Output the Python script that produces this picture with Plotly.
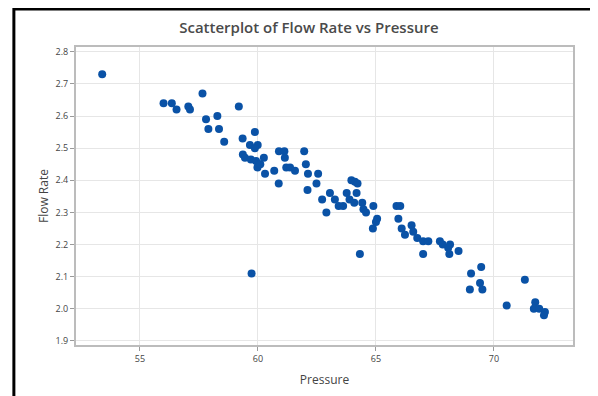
import plotly.graph_objects as go

pressure = [53.4, 56.0, 56.35, 56.55, 57.05, 57.12, 57.65, 57.8, 57.9, 58.28,
            58.35, 58.57, 59.19, 59.35, 59.87, 59.66, 59.99, 59.87, 59.36, 59.45,
            59.7, 59.92, 60.04, 59.98, 60.1, 60.25, 60.3, 60.69, 60.88, 60.89,
            61.12, 61.14, 61.2, 61.36, 61.57, 61.96, 62.03, 62.12, 62.1, 62.55,
            62.48, 62.72, 62.9, 63.05, 63.26, 63.42, 63.61, 63.76, 63.88, 63.96,
            64.11, 64.22, 64.18, 64.08, 64.42, 64.47, 64.58, 64.89, 64.32, 65.05,
            65.0, 64.87, 65.87, 66.03, 65.95, 66.09, 66.23, 66.51, 66.58, 66.75,
            67.0, 67.22, 67.0, 67.71, 67.83, 68.14, 68.06, 68.11, 68.5, 69.03,
            69.46, 69.41, 68.98, 69.51, 70.54, 71.31, 71.75, 71.69, 71.92, 72.16,
            72.12, 59.73]
flow_rate = [2.73, 2.64, 2.64, 2.62, 2.63, 2.62, 2.67, 2.59, 2.56, 2.60,
             2.56, 2.52, 2.63, 2.53, 2.55, 2.51, 2.51, 2.50, 2.48, 2.47,
             2.465, 2.46, 2.45, 2.44, 2.45, 2.47, 2.42, 2.43, 2.39, 2.49,
             2.49, 2.47, 2.44, 2.44, 2.43, 2.49, 2.45, 2.42, 2.37, 2.42,
             2.39, 2.34, 2.30, 2.36, 2.34, 2.32, 2.32, 2.36, 2.34, 2.40,
             2.395, 2.39, 2.36, 2.33, 2.33, 2.31, 2.30, 2.32, 2.17, 2.28,
             2.27, 2.25, 2.32, 2.32, 2.28, 2.25, 2.23, 2.26, 2.24, 2.22,
             2.21, 2.21, 2.17, 2.21, 2.20, 2.20, 2.19, 2.17, 2.18, 2.11,
             2.13, 2.08, 2.06, 2.06, 2.01, 2.09, 2.02, 2.00, 2.00, 1.99,
             1.98, 2.11]

x_ticks = [55, 60, 65, 70]
y_ticks = [1.9, 2.0, 2.1, 2.2, 2.3, 2.4, 2.5, 2.6, 2.7, 2.8]
y_tick_labels = ["1.9", "2.0", "2.1", "2.2", "2.3", "2.4", "2.5", "2.6", "2.7", "2.8"]

FONT = "Open Sans, Noto Sans, sans-serif"

fig = go.Figure()
fig.add_trace(go.Scatter(
    x=pressure, y=flow_rate, mode="markers",
    marker=dict(symbol="circle", size=8, color="#0a52a6", line=dict(width=0)),
    showlegend=False,
))

axis_common = dict(
    showgrid=True, gridcolor="#e6e6e6", gridwidth=1,
    showline=True, linecolor="#bcbcbc", linewidth=2, mirror=True,
    ticks="outside", ticklen=4, tickwidth=1, tickcolor="#9a9a9a",
    tickfont=dict(family=FONT, size=9, color="#444444"),
    zeroline=False,
)

fig.update_layout(
    width=590, height=388,
    margin=dict(l=68, r=25, t=39, b=51),
    paper_bgcolor="white", plot_bgcolor="white",
    title=dict(text="Scatterplot of Flow Rate vs Pressure",
               x=0.51, xanchor="center", y=0.948, yanchor="middle",
               font=dict(family=FONT, size=15, color="#4a4a4a", weight=600)),
    xaxis=dict(range=[52.29, 73.35], tickvals=x_ticks,
               title=dict(text="Pressure", font=dict(family=FONT, size=12, color="#444444"), standoff=12),
               **axis_common),
    yaxis=dict(range=[1.887, 2.815], tickvals=y_ticks, ticktext=y_tick_labels,
               title=dict(text="Flow Rate", font=dict(family=FONT, size=12, color="#444444"), standoff=4),
               **axis_common),
    shapes=[
        dict(type="line", xref="paper", yref="paper", x0=-0.125, x1=1.06, y0=1.1275, y1=1.1275,
             line=dict(color="black", width=3)),
        dict(type="line", xref="paper", yref="paper", x0=-0.125, x1=-0.125, y0=1.133, y1=-0.2,
             line=dict(color="black", width=3)),
    ],
)

fig.write_html("out.html")
